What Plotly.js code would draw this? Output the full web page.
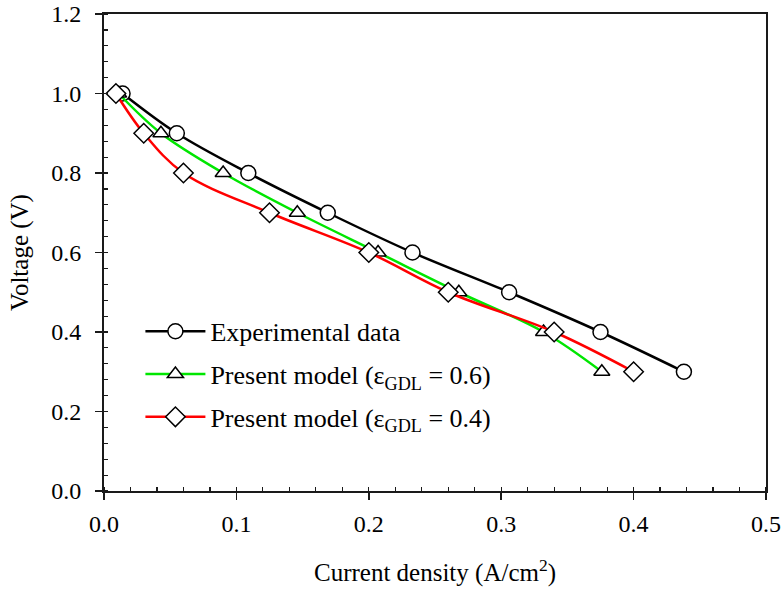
<!DOCTYPE html>
<html>
<head>
<meta charset="utf-8">
<script src="https://cdn.plot.ly/plotly-3.0.1.min.js"></script>
<style>html,body{margin:0;padding:0;background:#fff}#chart{width:782px;height:593px}</style>
</head>
<body>
<div id="chart"></div>
<script>
const voltage = [1.0, 0.9, 0.8, 0.7, 0.6, 0.5, 0.4, 0.3];
const expCurrent = [0.014, 0.055, 0.109, 0.169, 0.233, 0.306, 0.375, 0.438];
const model06Current = [0.011, 0.043, 0.09, 0.146, 0.207, 0.268, 0.332, 0.376];
const model04Current = [0.009, 0.03, 0.06, 0.125, 0.2, 0.26, 0.34, 0.40];
const seriesNames = ['Experimental data', 'Present model (ε<sub>GDL</sub> = 0.6)', 'Present model (ε<sub>GDL</sub> = 0.4)'];

const font = 'Liberation Serif';
const mk = (sym, size) => ({symbol: sym, size: size, color: '#ffffff', line: {color: '#000000', width: 1.5}});

const traces = [
  {x: expCurrent, y: voltage, name: seriesNames[0], legendgroup: 'a', mode: 'lines+markers',
   line: {color: '#000000', width: 2.5, shape: 'spline', smoothing: 1}, marker: mk('circle', 15)},
  {x: model06Current, y: voltage, name: seriesNames[1], legendgroup: 'b', mode: 'lines+markers',
   line: {color: '#00e600', width: 2.5, shape: 'spline', smoothing: 1}, marker: mk('triangle-up', 14)},
  {x: model04Current, y: voltage, name: seriesNames[2], legendgroup: 'c', mode: 'lines+markers',
   line: {color: '#ff0000', width: 2.5, shape: 'spline', smoothing: 1}, marker: mk('diamond', 15)}
];

const axisCommon = {
  showgrid: false, zeroline: false, showline: true, linecolor: '#1a1a1a', linewidth: 2,
  mirror: true, ticks: 'outside', ticklen: 7, tickwidth: 1.5, tickcolor: '#1a1a1a',
  tickfont: {family: font, size: 24, color: '#000'}, tickformat: '.1f'
};

const layout = {
  width: 782, height: 593,
  margin: {l: 104, r: 16, t: 14, b: 102},
  paper_bgcolor: '#ffffff', plot_bgcolor: '#ffffff',
  font: {family: font, color: '#000'},
  xaxis: Object.assign({}, axisCommon, {
    range: [0, 0.5], dtick: 0.1, ticklabelstandoff: 3,
    minor: {dtick: 0.02, ticks: 'inside', ticklen: 4, tickwidth: 1.2, tickcolor: '#1a1a1a'},
    title: {text: 'Current density (A/cm<sup>2</sup>)', font: {family: font, size: 25}, standoff: 28}
  }),
  yaxis: Object.assign({}, axisCommon, {
    range: [0, 1.2], dtick: 0.2, ticklabelstandoff: 9,
    minor: {dtick: 0.04, ticks: 'inside', ticklen: 4, tickwidth: 1.2, tickcolor: '#1a1a1a'},
    title: {text: 'Voltage (V)', font: {family: font, size: 25}, standoff: 15}
  }),
  showlegend: true,
  legend: {x: 0.055, y: 0.384, xanchor: 'left', yanchor: 'top', bgcolor: 'rgba(0,0,0,0)',
           font: {family: font, size: 26, color: '#000'}, itemwidth: 60, tracegroupgap: 6}
};

Plotly.newPlot('chart', traces, layout, {displayModeBar: false, staticPlot: true});
</script>
</body>
</html>
